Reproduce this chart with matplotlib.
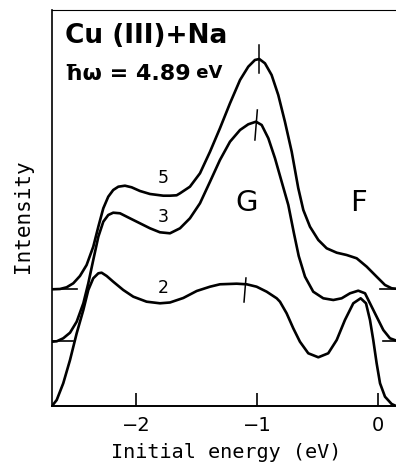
import numpy as np
import matplotlib.pyplot as plt

# Photoemission spectra, Cu(111)+Na, hw = 4.89 eV (intensity in arbitrary units, offset as drawn)
e5 = [-2.694, -2.628, -2.573, -2.518, -2.463, -2.408, -2.353, -2.311, -2.270, -2.229,
      -2.188, -2.146, -2.091, -2.036, -1.967, -1.884, -1.774, -1.719, -1.664, -1.636,
      -1.554, -1.471, -1.388, -1.306, -1.223, -1.140, -1.072, -1.017, -0.981, -0.934,
      -0.879, -0.824, -0.769, -0.713, -0.659, -0.617, -0.562, -0.493, -0.424, -0.341,
      -0.259, -0.176, -0.093, -0.011, 0.058, 0.113, 0.149]
i5 = [116.7, 117, 118.7, 122.7, 130, 141, 159.3, 179.3, 197.7, 209.3,
      216, 219.3, 220.3, 218.7, 215, 212, 210.3, 210.3, 210.7, 212.7,
      219.3, 232.7, 254.3, 277.7, 302.7, 326, 339.3, 346, 347, 342.7,
      331, 311, 284.3, 254.3, 218, 196, 179.3, 166, 157.7, 153.3,
      151, 147.7, 139.3, 129.3, 121, 117.7, 117.3]

e3 = [-2.694, -2.655, -2.601, -2.545, -2.490, -2.435, -2.394, -2.353, -2.311, -2.270,
      -2.229, -2.188, -2.132, -2.050, -1.967, -1.884, -1.802, -1.719, -1.636, -1.554,
      -1.471, -1.388, -1.306, -1.223, -1.140, -1.072, -1.008, -0.961, -0.906, -0.851,
      -0.796, -0.741, -0.695, -0.655, -0.603, -0.535, -0.452, -0.369, -0.300, -0.231,
      -0.163, -0.107, -0.066, -0.011, 0.044, 0.099, 0.149]
i3 = [64.3, 64.7, 67.7, 73.3, 84.3, 102.7, 122.7, 146, 169.3, 184.3,
      191, 193.3, 192.7, 187.7, 182.7, 177.7, 173.7, 172.7, 177.7, 187.7,
      202.7, 224.3, 246, 264.3, 276, 281.7, 284.3, 281, 267.7, 247.7,
      224.3, 201, 173, 150, 129.3, 114.3, 107.7, 106, 107.7, 112.7,
      115.3, 112.7, 102.7, 89.3, 76, 67.7, 65.5]

e2 = [-2.694, -2.655, -2.601, -2.545, -2.490, -2.435, -2.394, -2.353, -2.311, -2.284,
      -2.242, -2.188, -2.105, -2.022, -1.912, -1.802, -1.719, -1.609, -1.498, -1.388,
      -1.306, -1.168, -1.085, -1.003, -0.920, -0.837, -0.810, -0.755, -0.700, -0.645,
      -0.576, -0.493, -0.411, -0.341, -0.273, -0.204, -0.143, -0.099, -0.066, -0.039,
      -0.011, 0.017, 0.058, 0.113, 0.149]
i2 = [0, 6, 22.7, 46, 72.7, 96, 116, 127.7, 132.7, 133.3,
      130, 124.3, 116, 109.3, 104.3, 102.7, 103.5, 108, 115, 119.3,
      121.7, 122.3, 121.7, 119.3, 114.3, 107.7, 104.3, 92.7, 77.7, 64.3,
      52.7, 48.7, 52.7, 66, 86, 102.7, 107.7, 102.7, 86, 66,
      42.7, 22.7, 9.3, 2, 0]

baselines = [117, 65]
base_left_end = [-2.49, -2.518]
base_right_start = [0.017, 0.044]
# peak position marks: (energy bottom, energy top, intensity bottom, intensity top)
peak_marks = [(-0.981, -0.981, 333, 361), (-1.017, -0.997, 266, 296), (-1.107, -1.091, 104, 128)]

curve_labels = ["5", "3", "2"]
label_e = [-1.777, -1.777, -1.777]
label_i = [228, 189, 118]

fig = plt.figure(figsize=(3.96, 4.65), dpi=100)
ax = fig.add_axes([0.1313, 0.1269, 0.8687, 0.8516])

lw = 1.9
for e, i in [(e5, i5), (e3, i3), (e2, i2)]:
    ax.plot(e, i, color="black", lw=lw, solid_joinstyle="round", solid_capstyle="round")

# short baseline marks at both ends
for b, le, rs in zip(baselines, base_left_end, base_right_start):
    ax.plot([-2.694, le], [b, b], color="black", lw=1.2)
    ax.plot([rs, 0.149], [b, b], color="black", lw=1.2)

for e0, e1, y0, y1 in peak_marks:
    ax.plot([e0, e1], [y0, y1], color="black", lw=1.1)

for t, x, y in zip(curve_labels, label_e, label_i):
    ax.text(x, y, t, fontsize=12.5, ha="center", va="center")
ax.text(-1.083, 203, "G", fontsize=21, ha="center", va="center")
ax.text(-0.165, 203, "F", fontsize=21, ha="center", va="center")

ax.text(-2.59, 370, "Cu (III)+Na", fontsize=19, fontweight="bold", ha="left", va="center")
t1 = ax.text(-2.59, 332, "ħω = 4.89", fontsize=16, fontweight="bold", ha="left", va="center")
ax.annotate(" eV", xy=(1, 0.12), xycoords=t1, fontsize=13, fontweight="bold",
            ha="left", va="bottom")

ax.set_xlim(-2.694, 0.149)
ax.set_ylim(0, 396)
ax.set_xticks([-2, -1, 0])
ax.set_xticklabels(["\u22122", "\u22121", "0"])
ax.set_yticks([])
ax.tick_params(axis="x", direction="in", length=9.5, width=1.2, labelsize=14, pad=7)
ax.spines["right"].set_visible(False)
ax.spines["top"].set_linewidth(0.8)
ax.spines["left"].set_linewidth(1.2)
ax.spines["bottom"].set_linewidth(1.4)

fig.text(226 / 396, (465 - 452) / 465, "Initial energy (eV)", fontsize=14.5,
         family="DejaVu Sans Mono", ha="center", va="center")
fig.text(23 / 396, (465 - 216) / 465, "Intensity", fontsize=15, rotation=90,
         family="DejaVu Sans Mono", ha="center", va="center")

fig.savefig("out.png", dpi=100)
